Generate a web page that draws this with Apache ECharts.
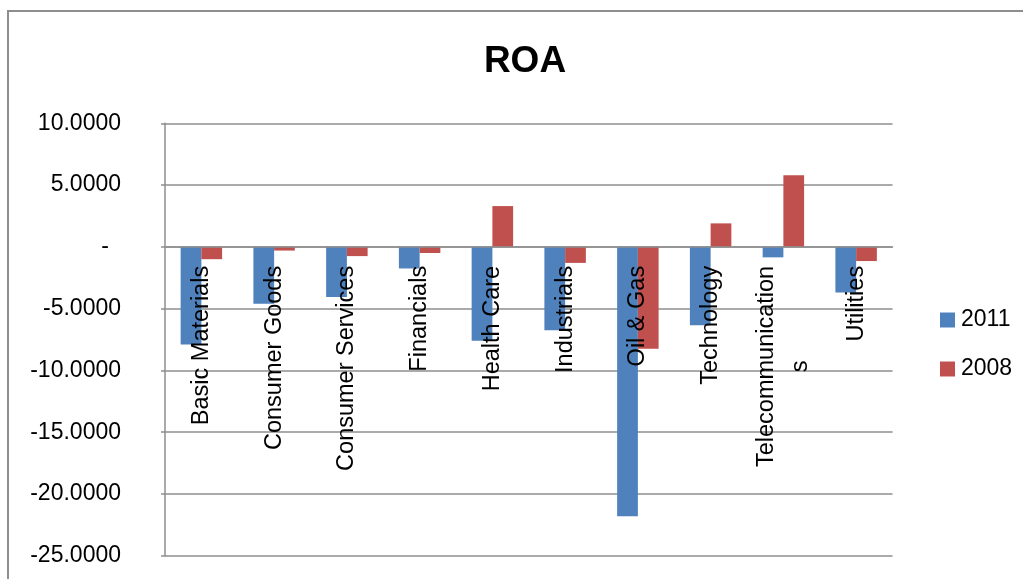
<!DOCTYPE html>
<html>
<head>
<meta charset="utf-8">
<script src="https://cdn.jsdelivr.net/npm/echarts@6/dist/echarts.min.js"></script>
<style>
  html, body { margin: 0; padding: 0; background: #fff; }
  #chart { width: 1023px; height: 579px; }
</style>
</head>
<body>
<div id="chart"></div>
<script>
// Sectors on the category axis
const categories = [
  'Basic Materials', 'Consumer Goods', 'Consumer Services', 'Financials',
  'Health Care', 'Industrials', 'Oil & Gas', 'Technology',
  'Telecommunications', 'Utilities'
];
// Return on assets per sector
const roa2011 = [-7.9, -4.6, -4.05, -1.75, -7.6, -6.75, -21.8, -6.35, -0.85, -3.7];
const roa2008 = [-1.0, -0.3, -0.75, -0.5, 3.3, -1.3, -8.25, 1.9, 5.8, -1.15];
const seriesNames = ['2011', '2008'];

const Y_MIN = -25;
const Y_MAX = 10;

const FONT = '"Liberation Sans", Arial, sans-serif';
const GRID_GRAY = '#8e8e8e';

const GRID_TOP = 123.3;
const GRID_BOTTOM = 23.3;
const CHART_H = 579;
// Distance from the bottom edge of the plot up to the zero line
const plotH = CHART_H - GRID_TOP - GRID_BOTTOM;
const zeroLift = plotH * (0 - Y_MIN) / (Y_MAX - Y_MIN);

// Break category names that are too long for one line (character-level wrap)
function wrapName(name) {
  const maxChars = 17;
  const lines = [];
  let rest = name;
  while (rest.length > maxChars) {
    lines.push(rest.slice(0, maxChars));
    rest = rest.slice(maxChars);
  }
  lines.push(rest);
  return lines.map(l => '{c|' + l + '}').join('\n');
}

const chart = echarts.init(document.getElementById('chart'), null, { renderer: 'canvas' });

chart.setOption({
  animation: false,
  backgroundColor: '#ffffff',
  title: {
    text: 'ROA',
    left: 520,
    top: 38,
    textAlign: 'center',
    textStyle: { fontFamily: FONT, fontSize: 37, fontWeight: 'bold', color: '#000' }
  },
  graphic: [{
    type: 'rect',
    shape: { x: 8, y: 11, width: 1200, height: 800 },
    style: { fill: 'none', stroke: GRID_GRAY, lineWidth: 2 },
    silent: true
  }],
  legend: {
    orient: 'vertical',
    left: 935,
    top: 303,
    itemWidth: 15,
    itemHeight: 15,
    itemGap: 25,
    icon: 'rect',
    textStyle: { fontFamily: FONT, fontSize: 23, color: '#000', lineHeight: 24, padding: [0, 0, 0, 1] },
    data: seriesNames
  },
  grid: {
    left: 165,
    right: 130.5,
    top: GRID_TOP,
    bottom: GRID_BOTTOM,
    containLabel: false,
    outerBoundsMode: 'none'
  },
  xAxis: {
    type: 'category',
    data: categories,
    position: 'bottom',
    offset: -zeroLift,
    z: 10,
    axisLine: { show: true, onZero: false, lineStyle: { color: GRID_GRAY, width: 1.5 } },
    axisTick: { show: false },
    axisLabel: {
      interval: 0,
      rotate: 90,
      margin: 19,
      color: '#000',
      fontFamily: FONT,
      fontSize: 23.5,
      formatter: wrapName,
      rich: {
        c: { align: 'center', fontFamily: FONT, fontSize: 23.5, color: '#000', lineHeight: 34 }
      }
    }
  },
  yAxis: {
    type: 'value',
    min: Y_MIN,
    max: Y_MAX,
    interval: 5,
    axisLine: { show: true, lineStyle: { color: GRID_GRAY, width: 1.5 } },
    axisTick: { show: true, inside: false, length: 4, lineStyle: { color: GRID_GRAY, width: 1.5 } },
    splitLine: { show: true, lineStyle: { color: GRID_GRAY, width: 1.5 } },
    axisLabel: {
      margin: 44,
      color: '#000',
      fontFamily: FONT,
      fontSize: 23,
      formatter: function (v) {
        if (v === 0) return '{z|-}';
        return v.toFixed(4);
      },
      rich: {
        z: { fontFamily: FONT, fontSize: 23, color: '#000', padding: [0, 12, 0, 0] }
      }
    }
  },
  series: [
    {
      name: seriesNames[0],
      type: 'bar',
      data: roa2011,
      barGap: '0%',
      barCategoryGap: '43%',
      itemStyle: { color: '#4F81BD' }
    },
    {
      name: seriesNames[1],
      type: 'bar',
      data: roa2008,
      barGap: '0%',
      barCategoryGap: '43%',
      itemStyle: { color: '#C0504D' }
    }
  ]
});
</script>
</body>
</html>
